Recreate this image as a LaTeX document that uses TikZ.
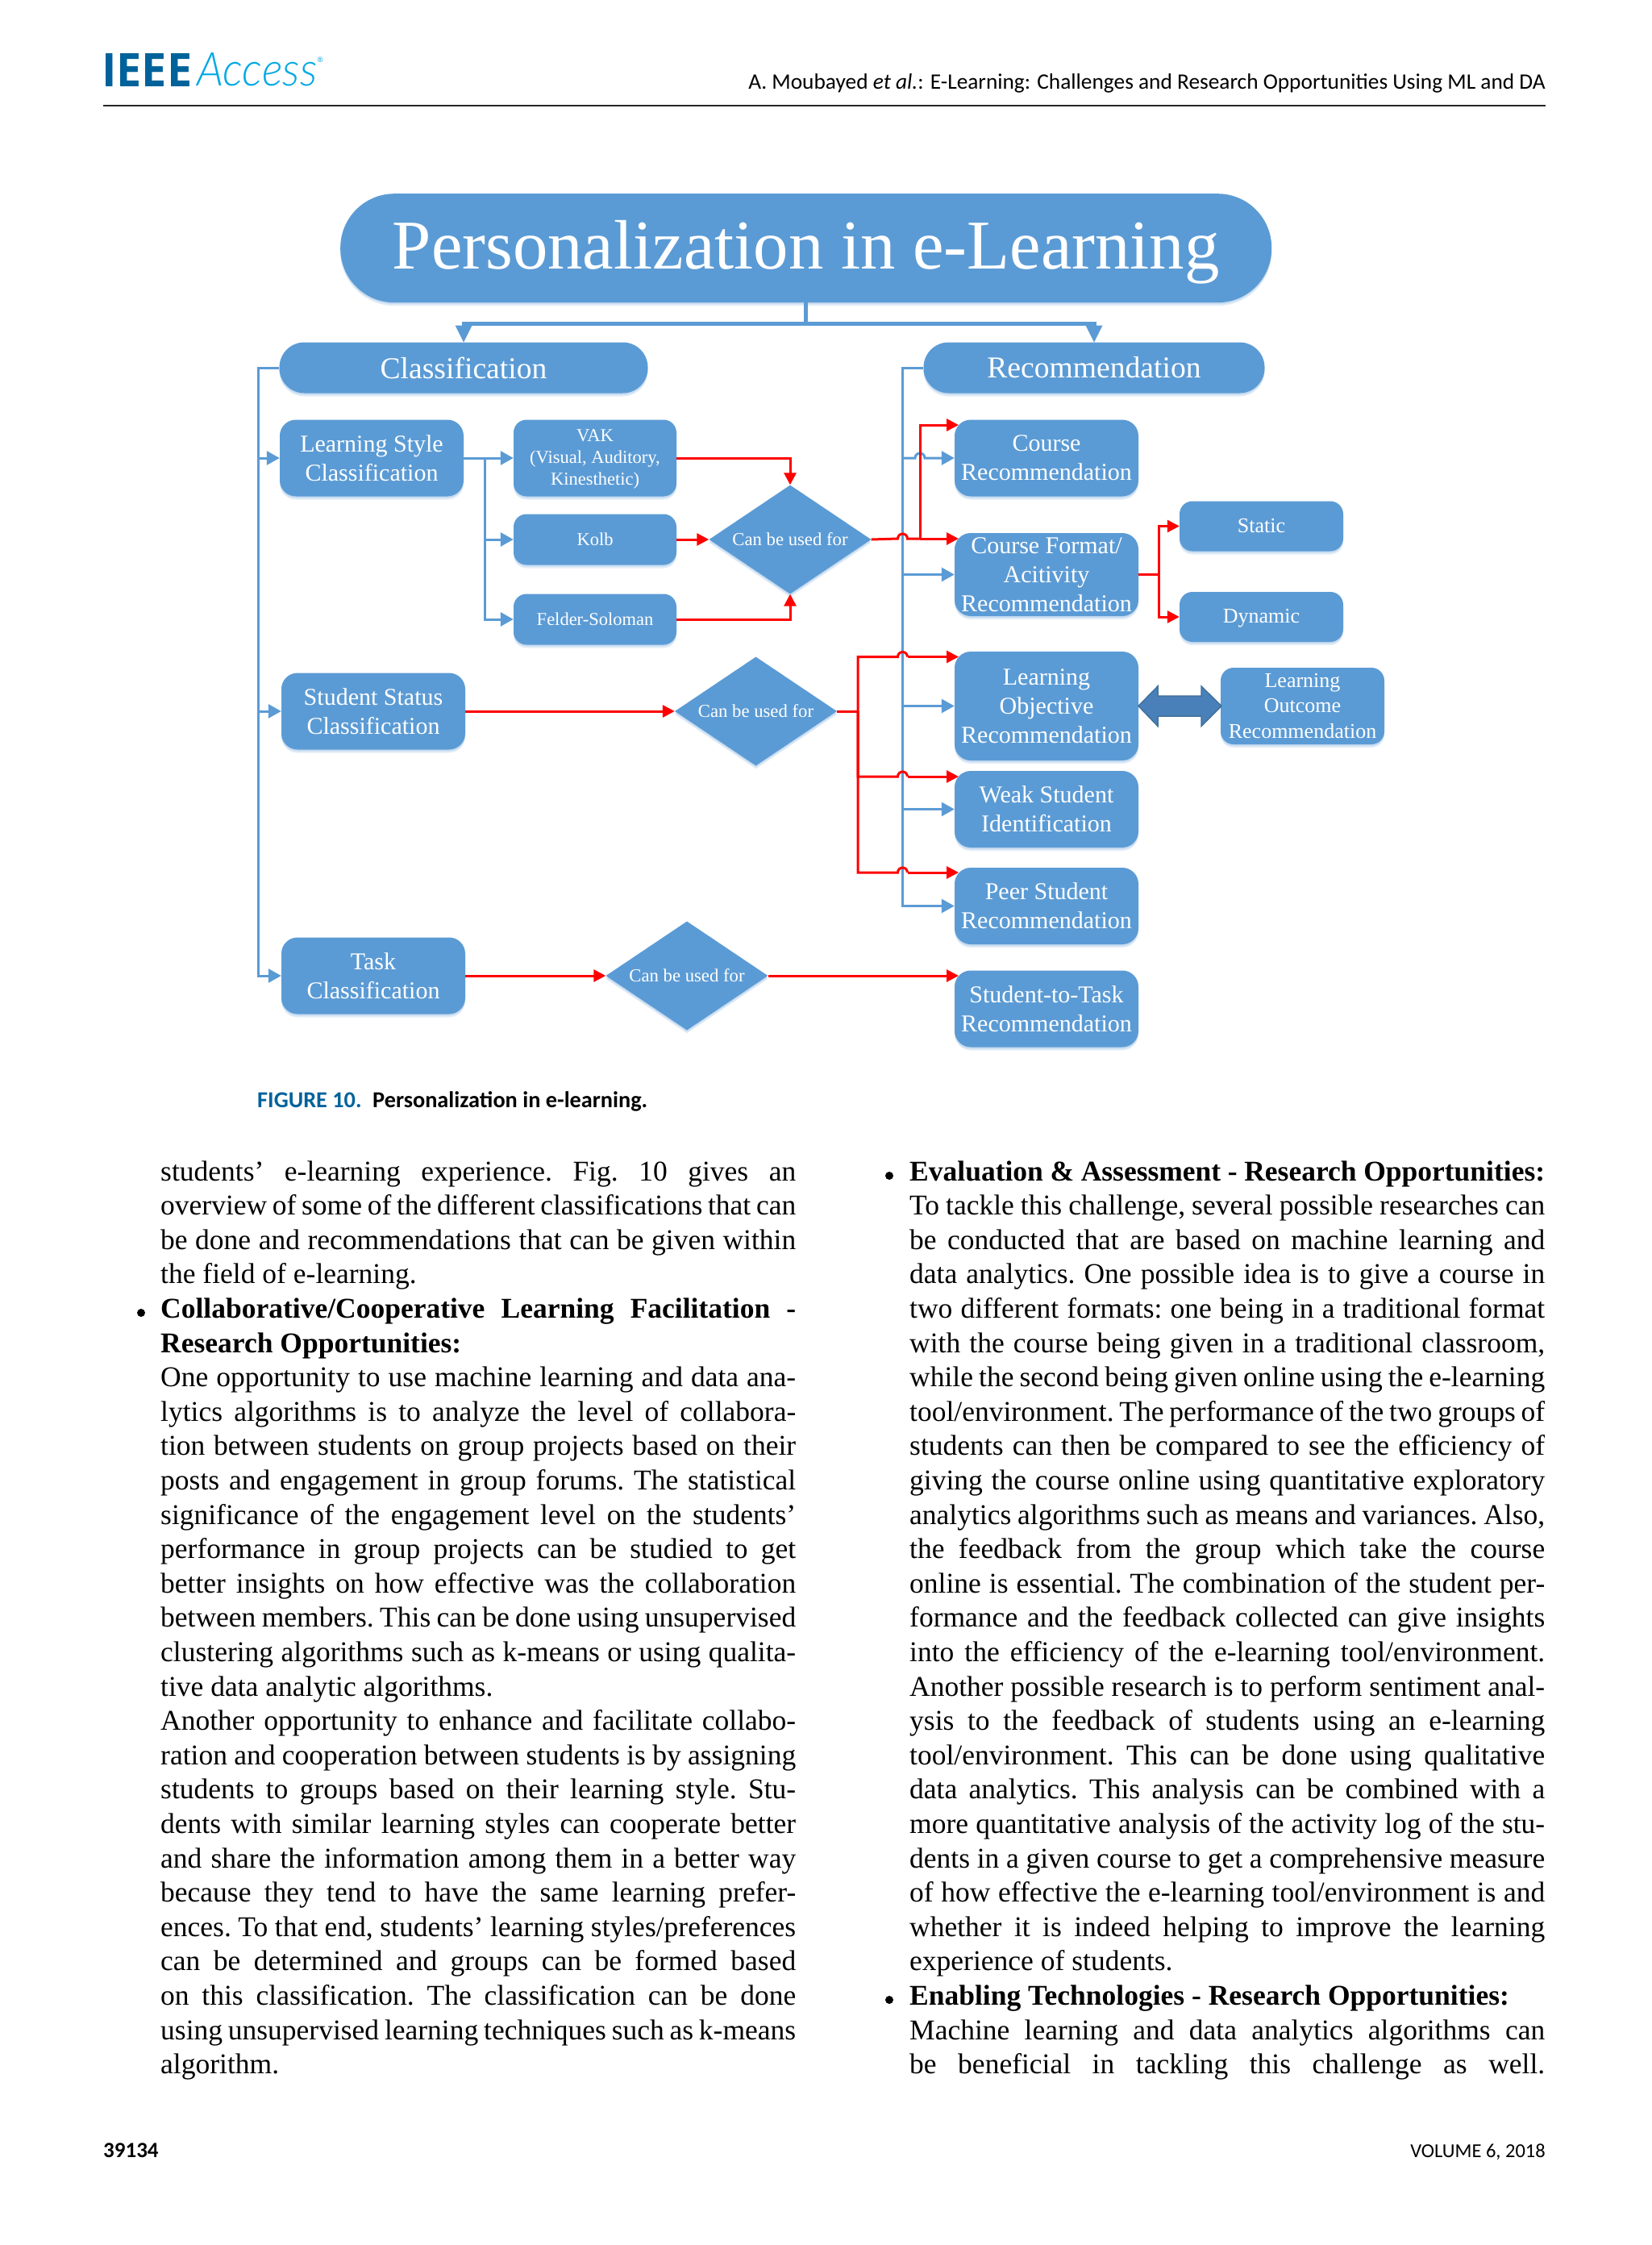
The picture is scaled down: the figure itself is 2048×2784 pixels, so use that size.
\documentclass[tikz,border=0pt]{standalone}
\usepackage{fontspec}
\usepackage{graphicx}
\setmainfont{Liberation Serif}
\newfontfamily\capfont{Carlito}
\newfontfamily\logofont{Open Sans}
\newfontfamily\logolight{Lato Light Italic}
\usetikzlibrary{arrows.meta,shapes.geometric,shadows,calc}
\definecolor{boxblue}{HTML}{5B9BD5}
\definecolor{ieeedark}{HTML}{00629B}
\definecolor{ieeelight}{HTML}{00A9E4}
\definecolor{dblfill}{HTML}{4A80B9}
\definecolor{dbledge}{HTML}{41719C}
\newcommand{\lineJ}[1]{\hbox to 788pt{#1}}
\newcommand{\lineL}[1]{\hbox{#1}}
\newcommand{\colsetup}{\fontsize{35.5}{42.6}\selectfont\frenchspacing\spaceskip=8.9pt plus 1fil minus 6pt\relax\lineskiplimit=-100pt\parindent=0pt}
\tikzset{
  softshadow/.style={drop shadow={shadow xshift=0pt,shadow yshift=-4pt,opacity=.18,fill=boxblue},drop shadow={shadow xshift=0pt,shadow yshift=-2pt,opacity=.2,fill=boxblue}},
  base box/.style={rectangle,fill=boxblue,text=white,align=center,inner sep=0pt,softshadow},
  big box/.style={base box,rounded corners=20pt,minimum width=228pt,minimum height=95pt,font=\fontsize{30}{36}\selectfont},
  small box/.style={base box,rounded corners=16pt,minimum width=202pt,minimum height=63pt,font=\fontsize{22.5}{27}\selectfont},
  side box/.style={base box,rounded corners=16pt,minimum width=203pt,minimum height=62pt,font=\fontsize{26}{31.5}\selectfont},
  pill/.style={base box,rounded corners=31pt,minimum height=63pt,font=\fontsize{37.6}{45}\selectfont},
  decision/.style={diamond,aspect=1.49,fill=boxblue,text=white,inner sep=0pt,minimum width=201pt,minimum height=135pt,font=\fontsize{22.7}{27}\selectfont,softshadow},
  blueline/.style={draw=boxblue,line width=3pt},
  blueheavy/.style={draw=boxblue,line width=5pt},
  redline/.style={draw=red,line width=3pt},
  bluetip/.style={-{Triangle[length=16pt,width=17pt,fill=boxblue]}},
  redtip/.style={-{Triangle[length=15pt,width=15pt,fill=red]}},
  bulletdot/.style={circle,fill=black,inner sep=0pt,minimum size=10pt},
  column/.style={anchor=base west,inner sep=0pt,text=black},
  capline/.style={inner sep=0pt,font=\capfont\fontsize{27.35}{32}\selectfont},
  footline/.style={inner sep=0pt,font=\capfont\fontsize{24.5}{30}\selectfont}
}
\begin{document}
\begin{tikzpicture}[x=1pt,y=-1pt]
\useasboundingbox[fill=white] (0,0) rectangle (2048,2784);

% header
\node[anchor=west,inner sep=0pt,text=ieeedark] (logoA) at (126,86.5) {\resizebox{112pt}{41pt}{\logofont\bfseries IEEE}};
\node[anchor=west,inner sep=0pt,text=ieeelight] (logoB) at (244,86.5) {\resizebox{149pt}{41pt}{\logolight Access}};
\node[inner sep=0pt,text=ieeelight,font=\logofont\fontsize{9}{10}\selectfont] (logoC) at (397,74) {®};
\draw[line width=2pt,black!85] (128,130.5) -- (1917,130.5);
\node[capline,anchor=base east] (runhead) at (1917,110) {A. Moubayed \textit{et al.}: E-Learning: Challenges and Research Opportunities Using ML and DA};

% diagram nodes
\node[base box,rounded corners=67pt,minimum width=1155pt,minimum height=135pt,text depth=8pt,font=\fontsize{86.7}{100}\selectfont] (title) at (999.7,307.7) {Personalization in e-Learning};
\node[pill,minimum width=457pt] (class) at (575,456) {Classification};
\node[pill,minimum width=423pt] (rec) at (1357,456) {Recommendation};

\node[big box] (ls) at (461,568) {Learning Style\\Classification};
\node[big box] (ss) at (463,882) {Student Status\\Classification};
\node[big box] (task) at (463,1210) {Task\\Classification};

\node[small box,minimum height=95pt] (vak) at (738,568) {\rule{0pt}{18pt}VAK\\(Visual, Auditory,\\Kinesthetic)};
\node[small box] (kolb) at (738,669) {Kolb};
\node[small box] (felder) at (738,768) {Felder-Soloman};

\node[decision] (d1) at (980,669) {Can be used for};
\node[decision] (d2) at (937.5,882) {Can be used for};
\node[decision] (d3) at (852,1210) {Can be used for};

\node[big box] (course) at (1298,568) {Course\\Recommendation};
\node[big box,minimum height=103pt] (format) at (1298,712.5) {Course Format/\\Acitivity\\Recommendation};
\node[big box,minimum height=135pt] (objective) at (1298,875.5) {Learning\\Objective\\Recommendation};
\node[big box] (weak) at (1298,1003.5) {Weak Student\\Identification};
\node[big box] (peer) at (1298,1123.5) {Peer Student\\Recommendation};
\node[big box] (stask) at (1298,1251) {Student-to-Task\\Recommendation};

\node[side box] (static) at (1564.5,652.5) {Static};
\node[side box,text depth=3pt] (dynamic) at (1564.5,765) {Dynamic};
\node[side box,minimum height=95pt] (outcome) at (1615.5,875.5) {Learning\\Outcome\\Recommendation};

% top tree
\coordinate (jtop) at (999.7,401);
\draw[blueheavy] (title.south) -- (jtop);
\draw[blueheavy,line cap=butt,shorten >=18pt] (jtop) -| (class.north);
\draw[blueheavy,line cap=butt,shorten >=18pt] (jtop) -| (rec.north);
\fill[boxblue] (564.5,403.5) -- (585.5,403.5) -- (575,424.5) -- cycle;
\fill[boxblue] (1346.5,403.5) -- (1367.5,403.5) -- (1357,424.5) -- cycle;

% classification trunk
\coordinate (ctrunkA) at (320.5,568);
\coordinate (ctrunkB) at (320.5,882);
\draw[blueline,bluetip] (class.west) -| (ctrunkB |- task.west) -- (task.west);
\draw[blueline,bluetip] (ctrunkA) -- (ls.west);
\draw[blueline,bluetip] (ctrunkB) -- (ss.west);

% learning style branches
\coordinate (lsj) at (601,568);
\draw[blueline,bluetip] (ls.east) -- (vak.west);
\draw[blueline,bluetip] (lsj) |- (kolb.west);
\draw[blueline,bluetip] (lsj) |- (felder.west);

% recommendation trunk
\coordinate (rt) at (1119.5,456);
\coordinate (hopc) at (1141,568);
\draw[blueline,bluetip] (rec.west) -- (rt) -- (rt |- peer.west) -- (peer.west);
\draw[blueline,bluetip] (rt |- course.west) -- ([xshift=-6pt]hopc) arc[start angle=180,end angle=0,radius=6pt] -- (course.west);
\draw[blueline,bluetip] (rt |- format.west) -- (format.west);
\draw[blueline,bluetip] (rt |- objective.west) -- (objective.west);
\draw[blueline,bluetip] (rt |- weak.west) -- (weak.west);

% red: learning style
\draw[redline,redtip] (vak.east) -| (d1.north);
\draw[redline,redtip] (kolb.east) -- (d1.west);
\draw[redline,redtip] (felder.east) -| (d1.south);
\coordinate (hop1) at (1119.5,668);
\coordinate (j1) at (1141,668);
\coordinate (c1tip) at (1189,527);
\coordinate (f1tip) at (1189,668);
\draw[redline] (d1.east) -- ([xshift=-6pt]hop1) arc[start angle=180,end angle=0,radius=6pt] -- (j1);
\draw[redline,redtip] (j1) |- (c1tip);
\draw[redline,redtip] (j1) -- (f1tip);

% red: format
\coordinate (fj) at (1437,712.5);
\draw[redline] (format.east) -- (fj);
\draw[redline,redtip] (fj) |- (static.west);
\draw[redline,redtip] (fj) |- (dynamic.west);

% red: student status
\draw[redline,redtip] (ss.east) -- (d2.west);
\coordinate (sj) at (1064,882);
\draw[redline] (d2.east) -- (sj);
\foreach \yy/\nm in {814.5/a,963/b,1082/c}{
  \coordinate (t\nm) at (1189,\yy);
  \coordinate (h\nm) at (1119.5,\yy);
  \draw[redline] (sj) |- ([xshift=-6pt]h\nm) arc[start angle=180,end angle=0,radius=6pt] -- ([xshift=6pt]h\nm);
  \draw[redline,redtip] ([xshift=6pt]h\nm) -- (t\nm);
}

% red: task
\coordinate (ttip) at (1189,1210);
\draw[redline,redtip] (task.east) -- (d3.west);
\draw[redline,redtip] (d3.east) -- (ttip);

% double arrow
\draw[fill=dblfill,draw=dbledge,line width=1.5pt,line join=miter] (1412,875.5) -- (1436,851) -- (1436,863) -- (1490,863) -- (1490,851) -- (1515,875.5) -- (1490,900.5) -- (1490,888) -- (1436,888) -- (1436,900.5) -- cycle;

% caption
\node[anchor=base west,inner sep=0pt,font=\capfont\bfseries\fontsize{28.3}{32}\selectfont,text=ieeedark] (fig) at (319,1373) {FIGURE 10.};
\node[anchor=base west,inner sep=0pt,font=\capfont\bfseries\fontsize{28.3}{32}\selectfont] (figcap) at (462,1373) {Personalization in e-learning.};

% left column
\node[column] (leftcol) at (199,1464) {\vtop{\colsetup
\lineJ{students’ e-learning experience. Fig. 10 gives an}
\lineJ{overview of some of the different classifications that can}
\lineJ{be done and recommendations that can be given within}
\lineL{the field of e-learning.}
\lineJ{\bfseries Collaborative/Cooperative Learning Facilitation -}
\lineL{\bfseries Research Opportunities:}
\lineJ{One opportunity to use machine learning and data ana-}
\lineJ{lytics algorithms is to analyze the level of collabora-}
\lineJ{tion between students on group projects based on their}
\lineJ{posts and engagement in group forums. The statistical}
\lineJ{significance of the engagement level on the students’}
\lineJ{performance in group projects can be studied to get}
\lineJ{better insights on how effective was the collaboration}
\lineJ{between members. This can be done using unsupervised}
\lineJ{clustering algorithms such as k-means or using qualita-}
\lineL{tive data analytic algorithms.}
\lineJ{Another opportunity to enhance and facilitate collabo-}
\lineJ{ration and cooperation between students is by assigning}
\lineJ{students to groups based on their learning style. Stu-}
\lineJ{dents with similar learning styles can cooperate better}
\lineJ{and share the information among them in a better way}
\lineJ{because they tend to have the same learning prefer-}
\lineJ{ences. To that end, students’ learning styles/preferences}
\lineJ{can be determined and groups can be formed based}
\lineJ{on this classification. The classification can be done}
\lineJ{using unsupervised learning techniques such as k-means}
\lineL{algorithm.}
}};
\node[bulletdot] (b1) at (175,1628) {};

% right column
\node[column] (rightcol) at (1128,1464) {\vtop{\colsetup
\lineJ{\bfseries Evaluation \& Assessment - Research Opportunities:}
\lineJ{To tackle this challenge, several possible researches can}
\lineJ{be conducted that are based on machine learning and}
\lineJ{data analytics. One possible idea is to give a course in}
\lineJ{two different formats: one being in a traditional format}
\lineJ{with the course being given in a traditional classroom,}
\lineJ{while the second being given online using the e-learning}
\lineJ{tool/environment. The performance of the two groups of}
\lineJ{students can then be compared to see the efficiency of}
\lineJ{giving the course online using quantitative exploratory}
\lineJ{analytics algorithms such as means and variances. Also,}
\lineJ{the feedback from the group which take the course}
\lineJ{online is essential. The combination of the student per-}
\lineJ{formance and the feedback collected can give insights}
\lineJ{into the efficiency of the e-learning tool/environment.}
\lineJ{Another possible research is to perform sentiment anal-}
\lineJ{ysis to the feedback of students using an e-learning}
\lineJ{tool/environment. This can be done using qualitative}
\lineJ{data analytics. This analysis can be combined with a}
\lineJ{more quantitative analysis of the activity log of the stu-}
\lineJ{dents in a given course to get a comprehensive measure}
\lineJ{of how effective the e-learning tool/environment is and}
\lineJ{whether it is indeed helping to improve the learning}
\lineL{experience of students.}
\lineL{\bfseries Enabling Technologies - Research Opportunities:}
\lineJ{Machine learning and data analytics algorithms can}
\lineJ{be beneficial in tackling this challenge as well.}
}};
\node[bulletdot] (b2) at (1103,1458) {};
\node[bulletdot] (b3) at (1103,2480) {};

% footer
\node[footline,anchor=base west,font=\capfont\bfseries\fontsize{27}{30}\selectfont] (pageno) at (128,2675) {39134};
\node[footline,anchor=base east] (volume) at (1917,2675) {VOLUME 6, 2018};
\end{tikzpicture}
\end{document}
